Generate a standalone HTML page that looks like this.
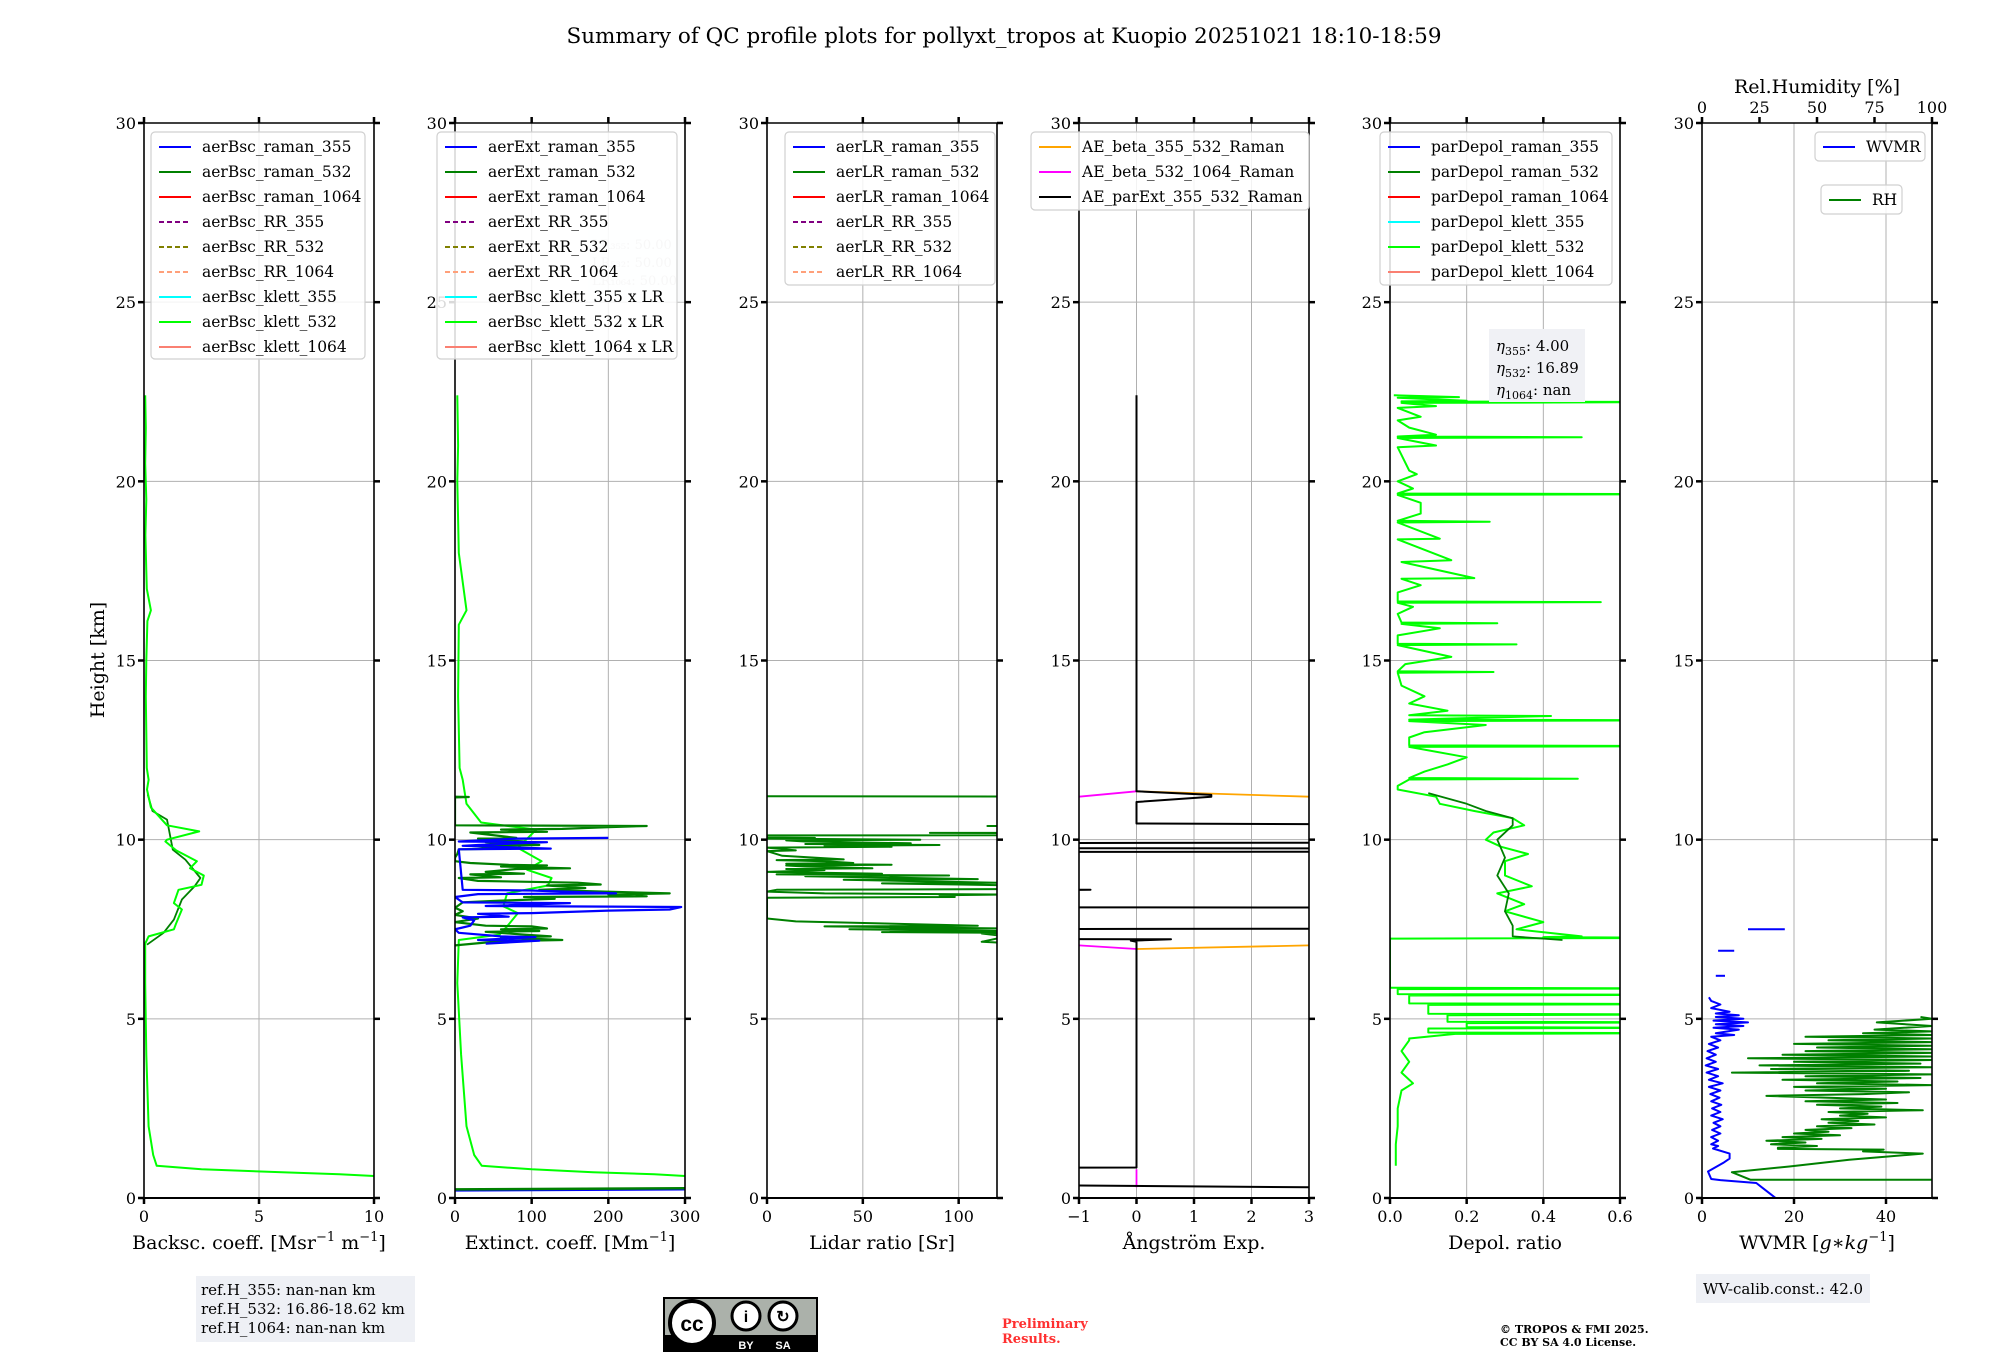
<!DOCTYPE html>
<html><head><meta charset="utf-8">
<style>
html,body{margin:0;padding:0;background:#fff;}
svg{display:block;font-family:"DejaVu Serif","Liberation Serif",serif;}
</style></head>
<body>
<svg id="fig" width="2000" height="1360" viewBox="0 0 2000 1360" xmlns="http://www.w3.org/2000/svg">
<rect width="2000" height="1360" fill="#fff"/>
<text x="1004" y="43" font-size="21.5" text-anchor="middle">Summary of QC profile plots for pollyxt_tropos at Kuopio 20251021 18:10-18:59</text>
<text transform="translate(104,660) rotate(-90)" font-size="19" text-anchor="middle">Height [km]</text>
<g id="plots"></g>
<g>
<rect x="196" y="1276" width="219" height="66" fill="#eef0f5"/>
<text x="201" y="1295" font-size="15">ref.H_355: nan-nan km</text>
<text x="201" y="1314" font-size="15">ref.H_532: 16.86-18.62 km</text>
<text x="201" y="1333" font-size="15">ref.H_1064: nan-nan km</text>
</g>
<g>
<rect x="663" y="1297" width="155" height="55" fill="#000"/>
<rect x="665" y="1299" width="151" height="36" fill="#abb1aa"/>
<circle cx="692" cy="1323" r="22" fill="#fff" stroke="#000" stroke-width="4"/>
<text x="692" y="1331" font-size="21" font-weight="bold" text-anchor="middle" font-family="Liberation Sans,sans-serif">cc</text>
<circle cx="746" cy="1316" r="14" fill="#fff" stroke="#000" stroke-width="3"/>
<text x="746" y="1322" font-size="16" font-weight="bold" text-anchor="middle" font-family="Liberation Sans,sans-serif">i</text>
<circle cx="783" cy="1316" r="14" fill="#fff" stroke="#000" stroke-width="3"/>
<text x="783" y="1322" font-size="16" font-weight="bold" text-anchor="middle" font-family="Liberation Sans,sans-serif">↻</text>
<text x="746" y="1349" font-size="11" fill="#fff" font-weight="bold" text-anchor="middle" font-family="Liberation Sans,sans-serif">BY</text>
<text x="783" y="1349" font-size="11" fill="#fff" font-weight="bold" text-anchor="middle" font-family="Liberation Sans,sans-serif">SA</text>
</g>
<text x="1002" y="1328" font-size="13" font-weight="bold" fill="#ff3030">Preliminary</text>
<text x="1002" y="1343" font-size="13" font-weight="bold" fill="#ff3030">Results.</text>
<text x="1500" y="1333" font-size="11" font-weight="bold">© TROPOS &amp; FMI 2025.</text>
<text x="1500" y="1346" font-size="11" font-weight="bold">CC BY SA 4.0 License.</text>
<g>
<rect x="1696" y="1274" width="174" height="29" fill="#eef0f5"/>
<text x="1703" y="1294" font-size="15">WV-calib.const.: 42.0</text>
</g>
</svg>
<script>
// ---- data arrays: [height_km, value] ----
const bscKlett532 = [[22.4,0.05],[21.5,0.08],[20.5,0.05],[19.5,0.1],[18.5,0.06],[17.5,0.1],[17,0.12],[16.4,0.3],[16.1,0.15],[15,0.1],[14,0.08],[13,0.1],[12,0.12],[11.67,0.2],[11.4,0.13],[10.9,0.3],[10.4,1.0],[10.23,2.4],[10.0,1.0],[9.95,0.93],[9.7,1.4],[9.4,2.3],[9.2,2.0],[9.0,2.6],[8.74,2.5],[8.6,1.5],[8.23,1.3],[8.05,1.65],[7.67,1.4],[7.5,1.3],[7.3,0.2],[7.1,0.05],[6,0.05],[4,0.1],[2,0.2],[1.2,0.4],[0.9,0.55],[0.8,2.5],[0.72,6],[0.66,8.5],[0.6,10.5]];
const bscRaman532 = [[11.26,0.16],[10.8,0.37],[10.56,1.0],[9.72,1.25],[9.44,1.8],[8.93,2.45],[8.7,2.2],[8.33,1.65],[7.77,1.3],[7.4,0.85],[7.07,0.13]];
const extKlett532 = [[22.4,3],[21,4],[20,3],[18,5],[16.4,15],[16,5],[14,4],[12,6],[11.67,10],[11,15],[10.48,34],[10.28,106],[9.77,82],[9.4,113],[9.16,94],[8.93,126],[8.72,121],[8.5,68],[8.14,63],[7.95,82],[7.58,68],[7.35,58],[7.2,5],[6,3],[4,8],[2,15],[1.2,25],[0.9,35],[0.8,100],[0.72,180],[0.66,260],[0.6,310]];
const extRaman532 = [[11.2,0],[11.19,18],[11.18,0],[10.4,0],[10.38,250],[10.35,200],[10.3,140],[10.28,60],[10.22,120],[10.2,20],[10.05,80],[10.03,30],[9.95,90],[9.93,40],[9.85,110],[9.83,20],[9.75,60],[9.73,5],[9.6,3],[9.5,0],[9.4,0],[9.35,20],[9.3,70],[9.28,120],[9.25,60],[9.2,150],[9.18,80],[9.1,40],[9.05,90],[9.03,20],[8.95,60],[8.93,5],[8.85,30],[8.8,160],[8.75,190],[8.72,120],[8.65,170],[8.6,110],[8.5,280],[8.47,200],[8.42,250],[8.4,90],[8.35,130],[8.3,60],[8.25,10],[8.1,0],[8.0,10],[7.9,0],[7.8,30],[7.7,0],[7.6,40],[7.58,100],[7.52,120],[7.5,60],[7.45,110],[7.43,40],[7.35,90],[7.3,125],[7.27,60],[7.2,140],[7.17,60],[7.05,0]];
const extRaman355 = [[10.05,200],[10.03,80],[9.95,5],[9.93,120],[9.85,30],[9.83,10],[9.75,125],[9.73,5],[8.6,10],[8.58,100],[8.5,210],[8.48,30],[8.4,0],[8.25,10],[8.23,150],[8.15,40],[8.12,295],[8.05,280],[8.02,200],[7.95,100],[7.93,30],[7.85,70],[7.83,10],[7.75,25],[7.6,20],[7.55,10],[7.5,0],[7.4,5],[7.3,60],[7.28,105],[7.2,30],[7.18,110],[7.1,40]];
const extLow532 = [[0.24,0],[0.27,300]];
const extLow355 = [[0.22,0],[0.25,300]];
const lrRaman532 = [[11.21,0],[11.2,300],[10.4,300],[10.38,115],[10.36,300],[10.2,300],[10.19,85],[10.17,300],[10.13,300],[10.12,0],[10.06,0],[10.05,25],[10.03,0],[10.0,80],[9.98,10],[9.95,20],[9.9,75],[9.88,20],[9.85,90],[9.83,30],[9.8,65],[9.78,0],[9.7,15],[9.68,0],[9.55,8],[9.45,40],[9.43,5],[9.4,30],[9.35,45],[9.33,10],[9.3,65],[9.28,10],[9.25,20],[9.2,55],[9.18,10],[9.15,30],[9.1,0],[9.05,60],[9.03,5],[9.0,95],[8.98,20],[8.9,110],[8.88,40],[8.85,70],[8.8,120],[8.78,60],[8.75,100],[8.72,130],[8.62,130],[8.6,5],[8.55,0],[8.5,30],[8.47,125],[8.45,90],[8.4,98],[8.38,0],[8.3,0],[7.8,0],[7.72,15],[7.6,110],[7.58,30],[7.55,80],[7.52,125],[7.5,43],[7.45,120],[7.42,60],[7.4,125],[7.38,112],[7.3,125],[7.15,112],[7.12,125]];
const aeParExt = [[22.4,0],[11.35,0],[11.25,1.3],[11.2,1.3],[11.05,0],[10.45,0],[10.4,8],[9.92,8],[9.9,-8],[9.77,-8],[9.75,8],[9.67,8],[9.65,-8],[8.62,-8],[8.6,-0.8],[8.58,-8],[8.12,-8],[8.1,8],[7.52,8],[7.5,-8],[7.25,-8],[7.22,0.6],[7.18,-0.1],[7.15,0],[0.85,0],[0.83,-8],[0.37,-8],[0.35,-1],[0.3,3],[0.29,8]];
const aeBeta532Upper = [[11.2,-1],[11.35,0]];
const aeBeta532Lower = [[7.05,-1],[6.95,0]];
const aeBeta532Bottom = [[0.8,0],[0.3,0]];
const aeBeta355Upper = [[11.35,0],[11.2,3]];
const aeBeta355Lower = [[6.95,0],[7.05,3]];
const depKlett532 = [[22.4,0.01],[22.35,0.18],[22.33,0.02],[22.25,0.2],[22.23,0.03],[22.21,0.8],[22.19,0.03],[22.1,0.12],[22.05,0.02],[21.8,0.08],[21.7,0.02],[21.5,0.05],[21.3,0.12],[21.25,0.02],[21.23,0.5],[21.21,0.02],[21.0,0.12],[20.95,0.02],[20.3,0.05],[20.2,0.07],[20.0,0.02],[19.8,0.06],[19.66,0.02],[19.64,0.8],[19.62,0.02],[19.4,0.08],[19.1,0.08],[18.9,0.02],[18.87,0.26],[18.85,0.02],[18.4,0.13],[18.38,0.02],[17.8,0.16],[17.75,0.03],[17.3,0.22],[17.28,0.03],[17.1,0.08],[16.9,0.02],[16.65,0.02],[16.63,0.55],[16.61,0.02],[16.5,0.06],[16.3,0.02],[16.06,0.03],[16.04,0.28],[16.02,0.03],[15.9,0.13],[15.7,0.02],[15.47,0.02],[15.45,0.33],[15.43,0.02],[15.1,0.16],[14.9,0.04],[14.7,0.02],[14.68,0.27],[14.66,0.02],[14.3,0.03],[14.0,0.09],[13.8,0.05],[13.6,0.15],[13.47,0.05],[13.45,0.42],[13.35,0.05],[13.33,0.8],[13.31,0.05],[13.2,0.25],[13.0,0.09],[12.85,0.05],[12.63,0.05],[12.61,0.8],[12.59,0.05],[12.3,0.2],[12.1,0.15],[11.9,0.09],[11.72,0.05],[11.7,0.49],[11.68,0.05],[11.5,0.02],[11.4,0.02],[11.2,0.12],[11.0,0.13],[10.8,0.22],[10.6,0.32],[10.4,0.35],[10.2,0.27],[10.0,0.25],[9.8,0.29],[9.6,0.36],[9.4,0.3],[9.0,0.3],[8.7,0.37],[8.5,0.28],[8.2,0.35],[8.0,0.3],[7.7,0.4],[7.5,0.33],[7.3,0.5],[7.28,0.4],[7.26,0.8],[7.24,0.0],[5.87,0.0],[5.85,0.8],[5.83,0.02],[5.69,0.02],[5.67,0.8],[5.65,0.05],[5.43,0.05],[5.41,0.8],[5.39,0.1],[5.14,0.1],[5.12,0.8],[5.1,0.15],[4.92,0.15],[4.9,0.8],[4.88,0.2],[4.77,0.2],[4.75,0.8],[4.73,0.1],[4.62,0.1],[4.6,0.8],[4.58,0.17],[4.45,0.05],[4.4,0.05],[4.1,0.03],[3.8,0.05],[3.5,0.03],[3.2,0.06],[3.0,0.03],[2.5,0.02],[2.0,0.02],[1.5,0.015],[0.9,0.015]];
const depRaman532 = [[11.3,0.1],[11.0,0.2],[10.8,0.25],[10.6,0.32],[10.4,0.32],[10.0,0.28],[9.5,0.3],[9.0,0.28],[8.5,0.31],[8.0,0.3],[7.6,0.32],[7.3,0.32],[7.2,0.45]];
const wvmr = [[0.0,16],[0.1,15],[0.3,13],[0.42,11.8],[0.5,4],[0.53,2],[0.74,1.3],[0.98,4.6],[1.1,6],[1.24,6],[1.38,2.4],[1.45,3.5],[1.5,2],[1.6,3.5],[1.7,2],[1.8,4],[1.9,2.2],[2.0,4],[2.1,2.5],[2.2,4.5],[2.3,2],[2.4,4],[2.5,2.2],[2.6,4.2],[2.7,2],[2.8,3.8],[2.9,1.8],[3.0,4],[3.1,1.5],[3.2,4.5],[3.3,1.5],[3.4,3.5],[3.5,1],[3.6,3.5],[3.7,0.8],[3.8,3],[3.9,1],[4.0,3],[4.1,1.2],[4.2,3.5],[4.3,1.5],[4.4,4],[4.5,2],[4.55,7],[4.6,3],[4.7,8],[4.75,2.5],[4.8,9],[4.85,3],[4.9,10],[4.95,2.5],[5.0,9],[5.05,3],[5.1,8],[5.15,3],[5.2,6],[5.3,2],[5.4,4],[5.5,2],[5.6,1.5]];
const wvmrMid1 = [[6.2,3],[6.2,5]];
const wvmrMid2 = [[6.9,3.5],[6.9,7]];
const wvmrHigh = [[7.5,10],[7.5,18]];
const rh = [[0.51,100],[0.51,21],[0.72,13],[0.88,38],[1.07,64],[1.24,96],[1.3,70],[1.35,79],[1.37,33],[1.4,33],[1.45,50],[1.5,30],[1.55,45],[1.6,28],[1.65,52],[1.7,35],[1.75,60],[1.8,40],[1.85,55],[1.9,45],[1.95,65],[2.0,50],[2.05,75],[2.1,55],[2.15,68],[2.2,52],[2.25,80],[2.3,60],[2.35,72],[2.4,55],[2.45,96],[2.5,60],[2.55,78],[2.6,50],[2.65,85],[2.7,45],[2.75,80],[2.8,55],[2.85,28],[2.9,70],[2.95,90],[3.0,45],[3.05,80],[3.1,40],[3.15,100],[3.2,50],[3.25,85],[3.3,35],[3.35,95],[3.4,45],[3.45,100],[3.5,13],[3.55,90],[3.6,30],[3.65,100],[3.7,25],[3.75,95],[3.8,40],[3.85,100],[3.9,20],[3.95,100],[4.0,35],[4.05,100],[4.1,45],[4.15,100],[4.2,50],[4.25,100],[4.3,40],[4.35,100],[4.4,55],[4.45,100],[4.5,45],[4.55,100],[4.6,70],[4.65,100],[4.7,75],[4.8,100],[4.9,76],[5.0,100],[5.05,95]];
const yTicks = [0,5,10,15,20,25,30];

// ---- geometry ----
const TOP=123, BOT=1198, W=230, HMAX=30;
const lefts=[144,455,767,1079,1390,1702];
const NS='http://www.w3.org/2000/svg';
const root=document.getElementById('plots');
function yS(h){return BOT-(h/HMAX)*(BOT-TOP);}
function el(tag,parent){const e=document.createElementNS(NS,tag);parent.appendChild(e);return e;}
function attr(e,o){for(const k in o)e.setAttribute(k,o[k]);return e;}

function makePanel(i,xmin,xmax,xticks){
  const L=lefts[i];
  const g=el('g',root);
  
  
  const sx=v=>L+(v-xmin)/(xmax-xmin)*W;
  const cp=el('clipPath',g);attr(cp,{id:'clip'+i});
  attr(el('rect',cp),{x:L,y:TOP,width:W,height:BOT-TOP});
  for(const t of yTicks){
    const ln=el('line',g);attr(ln,{x1:L,x2:L+W,y1:yS(t),y2:yS(t),stroke:'#b0b0b0','stroke-width':1});
    
    
  }
  for(const t of xticks){
    const ln=el('line',g);attr(ln,{x1:sx(t),x2:sx(t),y1:TOP,y2:BOT,stroke:'#b0b0b0','stroke-width':1});
    
    
  }
  return {g,sx,L,i};
}
function drawAxes(p,xticks,xlabel,fmt,topTicks){
  const {g,sx,L}=p;
  const fr=el('g',g);
  
  
  attr(el('line',fr),{x1:L,x2:L,y1:TOP,y2:BOT+1,stroke:'#000','stroke-width':1.6});
  attr(el('line',fr),{x1:L+W,x2:L+W,y1:TOP,y2:BOT+1,stroke:'#000','stroke-width':1.6});
  attr(el('line',fr),{x1:L-1,x2:L+W+1,y1:BOT,y2:BOT,stroke:'#000','stroke-width':2});
  attr(el('line',fr),{x1:L-1,x2:L+W+1,y1:TOP,y2:TOP,stroke:'#000','stroke-width':1.6});
  for(const t of yTicks){
    attr(el('line',fr),{x1:L-6,x2:L,y1:yS(t),y2:yS(t),stroke:'#000','stroke-width':2.5});
    attr(el('line',fr),{x1:L+W,x2:L+W+6,y1:yS(t),y2:yS(t),stroke:'#000','stroke-width':2.5});
    const tx=el('text',fr);attr(tx,{x:L-8,y:yS(t)+6,'font-size':16,'text-anchor':'end'});
    
    
    tx.textContent=t;
  }
  xticks.forEach(t=>{
    attr(el('line',fr),{x1:sx(t),x2:sx(t),y1:BOT,y2:BOT+6,stroke:'#000','stroke-width':2.5});
    if(topTicks) attr(el('line',fr),{x1:sx(t),x2:sx(t),y1:TOP-6,y2:TOP,stroke:'#000','stroke-width':2.5});
    const tx=el('text',fr);attr(tx,{x:sx(t),y:BOT+24,'font-size':16,'text-anchor':'middle'});
    
    
    tx.textContent=fmt(t);
  });
  const xl=el('text',fr);attr(xl,{x:L+W/2,y:BOT+51,'font-size':19,'text-anchor':'middle'});
  
  
  xl.innerHTML=xlabel;
}
function series(p,data,color,name,width){
  const pts=data.map(d=>p.sx(d[1]).toFixed(1)+','+yS(d[0]).toFixed(1)).join(' ');
  const pl=el('polyline',p.g);
  attr(pl,{points:pts,fill:'none',stroke:color,'stroke-width':width||2,'clip-path':'url(#clip'+p.i+')','stroke-linejoin':'round'});
  
  
}
function legend(x,y,w,h,items,name){
  const g=el('g',root);
  
  
  attr(el('rect',g),{x:x,y:y,width:w,height:h,rx:4,fill:'#fff','fill-opacity':0.85,stroke:'#d0d0d0','stroke-width':1.2});
  items.forEach((it,k)=>{
    const yy=y+15+k*25;
    const ln=el('line',g);attr(ln,{x1:x+8,x2:x+40,y1:yy,y2:yy,stroke:it[1],'stroke-width':2});
    if(it[2]) ln.setAttribute('stroke-dasharray','5,3');
    const tx=el('text',g);attr(tx,{x:x+51,y:yy+5,'font-size':15.5});
    
    
    tx.textContent=it[0];
  });
}
const fmtI=t=>String(t);
// Panel 1
const xt1=[0,5,10];
const p1=makePanel(0,0,10,xt1);
series(p1,bscRaman532,'#008000','aerBsc-raman-532-line',1.8);
series(p1,bscKlett532,'#00ff00','aerBsc-klett-532-line',2);
drawAxes(p1,xt1,'Backsc. coeff. [Msr<tspan font-size="13" dy="-8">−1</tspan><tspan dy="8"> m</tspan><tspan font-size="13" dy="-8">−1</tspan><tspan dy="8">]</tspan>',fmtI,true);
// Panel 2
const xt2=[0,100,200,300];
const p2=makePanel(1,0,300,xt2);
series(p2,extKlett532,'#00ff00','aerBsc-klett-532-x-LR-line',2);
series(p2,extRaman532,'#008000','aerExt-raman-532-line',2.2);
series(p2,extRaman355,'#0000ff','aerExt-raman-355-line',2.2);
series(p2,extLow355,'#0000ff','aerExt-raman-355-low-line',3);
series(p2,extLow532,'#008000','aerExt-raman-532-low-line',2.5);
drawAxes(p2,xt2,'Extinct. coeff. [Mm<tspan font-size="13" dy="-8">−1</tspan><tspan dy="8">]</tspan>',fmtI,true);
// Panel 3
const xt3=[0,50,100];
const p3=makePanel(2,0,120,xt3);
series(p3,lrRaman532,'#008000','aerLR-raman-532-line',2);
drawAxes(p3,xt3,'Lidar ratio [Sr]',fmtI,true);
// Panel 4
const xt4=[-1,0,1,2,3];
const p4=makePanel(3,-1,3,xt4);
series(p4,aeBeta355Upper,'#ffa500','AE-beta-355-532-upper-line',1.8);
series(p4,aeBeta355Lower,'#ffa500','AE-beta-355-532-lower-line',1.8);
series(p4,aeBeta532Upper,'#ff00ff','AE-beta-532-1064-upper-line',1.8);
series(p4,aeBeta532Lower,'#ff00ff','AE-beta-532-1064-lower-line',1.8);
series(p4,aeBeta532Bottom,'#ff00ff','AE-beta-532-1064-bottom-line',1.8);
series(p4,aeParExt,'#000','AE-parExt-355-532-line',2);
drawAxes(p4,xt4,'Ångström Exp.',t=>t<0?'−'+(-t):String(t),true);
// Panel 5
const xt5=[0,0.2,0.4,0.6];
const p5=makePanel(4,0,0.6,xt5);
series(p5,depKlett532,'#00ff00','parDepol-klett-532-line',2);
series(p5,depRaman532,'#008000','parDepol-raman-532-line',1.8);
drawAxes(p5,xt5,'Depol. ratio',t=>t.toFixed(1),true);
// Panel 6
const xt6=[0,20,40];
const p6=makePanel(5,0,50,xt6);
series(p6,rh.map(d=>[d[0],d[1]/2]),'#008000','RH-line',2);
series(p6,wvmr,'#0000ff','WVMR-line',2);
series(p6,wvmrMid1,'#0000ff','WVMR-segment-6km',2);
series(p6,wvmrMid2,'#0000ff','WVMR-segment-7km',2);
series(p6,wvmrHigh,'#0000ff','WVMR-upper-segment',2);
drawAxes(p6,xt6,'WVMR [<tspan font-style="italic">g</tspan>∗<tspan font-style="italic">kg</tspan><tspan font-size="13" dy="-8">−1</tspan><tspan dy="8">]</tspan>',fmtI,false);
// RH top axis
const rhTicks=[0,25,50,75,100];
const tg=el('g',root);


rhTicks.forEach(t=>{
  const x=1702+t/100*W;
  attr(el('line',tg),{x1:x,x2:x,y1:TOP-6,y2:TOP,stroke:'#000','stroke-width':2.5});
  const tx=el('text',tg);attr(tx,{x:x,y:TOP-10,'font-size':16,'text-anchor':'middle'});
  
  
  tx.textContent=t;
});
const rt=el('text',tg);attr(rt,{x:1817,y:93,'font-size':19,'text-anchor':'middle'});


rt.textContent='Rel.Humidity [%]';

// LR annotation (faint) in panel 2
const lr=el('g',root);


attr(el('rect',lr),{x:588,y:230,width:96,height:72,fill:'#f4f5f8','fill-opacity':0.5});
['LR₃₅₅: 50.00','LR₅₃₂: 50.00','LR₁₀₆₄: 50.00'].forEach((s,k)=>{const t=el('text',lr);attr(t,{x:592,y:249+k*18,'font-size':13,fill:'#c8c8c8'});t.textContent=s;});

legend(151,132,214,227,[['aerBsc_raman_355','#0000ff'],['aerBsc_raman_532','#008000'],['aerBsc_raman_1064','#ff0000'],['aerBsc_RR_355','#800080',1],['aerBsc_RR_532','#808000',1],['aerBsc_RR_1064','#ffa07a',1],['aerBsc_klett_355','#00ffff'],['aerBsc_klett_532','#00ff00'],['aerBsc_klett_1064','#fa8072']],'legend-backscatter');
legend(437,132,240,227,[['aerExt_raman_355','#0000ff'],['aerExt_raman_532','#008000'],['aerExt_raman_1064','#ff0000'],['aerExt_RR_355','#800080',1],['aerExt_RR_532','#808000',1],['aerExt_RR_1064','#ffa07a',1],['aerBsc_klett_355 x LR','#00ffff'],['aerBsc_klett_532 x LR','#00ff00'],['aerBsc_klett_1064 x LR','#fa8072']],'legend-extinction');
legend(785,132,210,153,[['aerLR_raman_355','#0000ff'],['aerLR_raman_532','#008000'],['aerLR_raman_1064','#ff0000'],['aerLR_RR_355','#800080',1],['aerLR_RR_532','#808000',1],['aerLR_RR_1064','#ffa07a',1]],'legend-lidar-ratio');
legend(1031,132,278,78,[['AE_beta_355_532_Raman','#ffa500'],['AE_beta_532_1064_Raman','#ff00ff'],['AE_parExt_355_532_Raman','#000']],'legend-angstrom');
legend(1380,132,232,153,[['parDepol_raman_355','#0000ff'],['parDepol_raman_532','#008000'],['parDepol_raman_1064','#ff0000'],['parDepol_klett_355','#00ffff'],['parDepol_klett_532','#00ff00'],['parDepol_klett_1064','#fa8072']],'legend-depol');
legend(1815,132,110,29,[['WVMR','#0000ff']],'legend-wvmr');
legend(1821,185,81,29,[['RH','#008000']],'legend-rh');

// eta box
const eb=el('g',root);


attr(el('rect',eb),{x:1489,y:329,width:96,height:73,fill:'#f0f1f5'});
[['355','4.00'],['532','16.89'],['1064','nan']].forEach((s,k)=>{
  const t=el('text',eb);attr(t,{x:1496,y:351+k*22,'font-size':15});
  t.innerHTML='<tspan font-style="italic">η</tspan><tspan font-size="11" dy="4">'+s[0]+'</tspan><tspan dy="-4">: '+s[1]+'</tspan>';
});
</script>
</body></html>
